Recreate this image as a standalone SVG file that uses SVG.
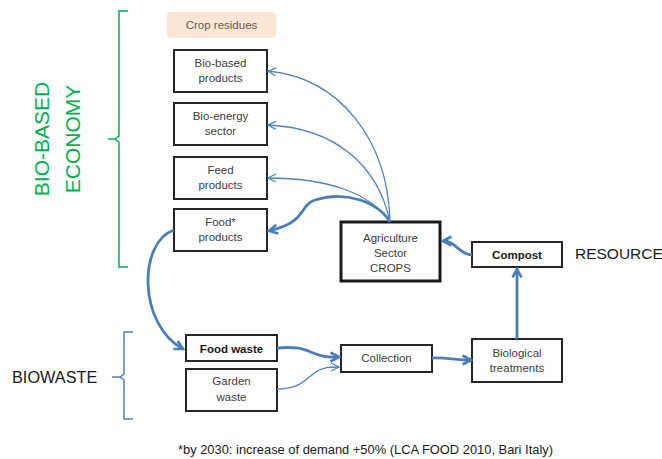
<svg xmlns="http://www.w3.org/2000/svg" width="662" height="459" viewBox="0 0 662 459">
<defs>
<style>
.box{fill:#fff;stroke:#262626;stroke-width:2}
.t{font-family:"Liberation Sans",Arial,sans-serif;font-size:11.5px;fill:#404040;text-anchor:middle}
.b{font-weight:bold;fill:#1a1a1a}
.thin{fill:none;stroke:#4f81bd;stroke-width:1.3}
.thick{fill:none;stroke:#4a7ebb;stroke-width:2.8}
.lbl{font-family:"Liberation Sans",Arial,sans-serif;fill:#1a1a1a}
</style>
<marker id="ah" viewBox="0 0 10 10" refX="9" refY="5" markerWidth="10" markerHeight="10" markerUnits="userSpaceOnUse" orient="auto">
<path d="M1,1 L9,5 L1,9" fill="none" stroke="#4f81bd" stroke-width="1.3"/>
</marker>
<marker id="ahT" viewBox="0 0 12 12" refX="10" refY="6" markerWidth="12" markerHeight="12" markerUnits="userSpaceOnUse" orient="auto">
<path d="M1.5,1.5 L10,6 L1.5,10.5" fill="none" stroke="#4a7ebb" stroke-width="2.6" stroke-linejoin="miter"/>
</marker>
</defs>
<rect width="662" height="459" fill="#fff"/>

<g id="bio-based-economy-label">
<path d="M128,11 L119,11 L119,136 L115,139 L108,139 M115,139 L119,142 L119,267 L128,267" fill="none" stroke="#00b050" stroke-width="1.5"/>
<text class="lbl" transform="translate(49,139) rotate(-90)" text-anchor="middle" font-size="21" fill="#00b050" style="fill:#00b050">BIO-BASED</text>
<text class="lbl" transform="translate(80,139) rotate(-90)" text-anchor="middle" font-size="21" style="fill:#00b050">ECONOMY</text>
</g>

<g id="biowaste-label">
<path d="M133,332 L124,332 L124,374 L120,377 L112,377 M120,377 L124,380 L124,419 L133,419" fill="none" stroke="#4f81bd" stroke-width="1.5"/>
<text class="lbl" x="12" y="383" font-size="16.3">BIOWASTE</text>
</g>

<g id="resource-label">
<text class="lbl" x="575" y="259" font-size="15.5">RESOURCE</text>
</g>

<g id="crop-residues">
<rect x="167" y="12" width="109" height="26" rx="4" fill="#fbe5d6"/>
<text class="t" x="221.5" y="29" font-size="11" style="fill:#6b5a4e">Crop residues</text>
</g>

<g id="bio-based-products">
<rect class="box" x="174" y="50" width="93" height="42"/>
<text class="t" x="220.5" y="67">Bio-based</text>
<text class="t" x="220.5" y="82">products</text>
</g>

<g id="bio-energy-sector">
<rect class="box" x="174" y="103" width="93" height="42"/>
<text class="t" x="220.5" y="120">Bio-energy</text>
<text class="t" x="220.5" y="135">sector</text>
</g>

<g id="feed-products">
<rect class="box" x="174" y="157" width="93" height="42"/>
<text class="t" x="220.5" y="174">Feed</text>
<text class="t" x="220.5" y="189">products</text>
</g>

<g id="food-products">
<rect class="box" x="174" y="209" width="93" height="42"/>
<text class="t" x="220.5" y="226">Food*</text>
<text class="t" x="220.5" y="241">products</text>
</g>

<g id="agriculture-sector">
<rect x="341" y="222" width="99" height="59" fill="#fff" stroke="#1a1a1a" stroke-width="3"/>
<text class="t" x="390.5" y="242">Agriculture</text>
<text class="t" x="390.5" y="257">Sector</text>
<text class="t" x="390.5" y="272">CROPS</text>
</g>

<g id="compost">
<rect class="box" x="472" y="242" width="90" height="25"/>
<text class="t b" x="517" y="258.5" font-size="11">Compost</text>
</g>

<g id="food-waste">
<rect class="box" x="186" y="335" width="91" height="26"/>
<text class="t b" x="231.5" y="352.5" font-size="11">Food waste</text>
</g>

<g id="garden-waste">
<rect class="box" x="186" y="369" width="91" height="42"/>
<text class="t" x="231.5" y="385">Garden</text>
<text class="t" x="231.5" y="401">waste</text>
</g>

<g id="collection">
<rect class="box" x="341" y="345" width="91" height="27"/>
<text class="t" x="386.5" y="362">Collection</text>
</g>

<g id="biological-treatments">
<rect class="box" x="472" y="339" width="90" height="43"/>
<text class="t" x="517" y="357">Biological</text>
<text class="t" x="517" y="372">treatments</text>
</g>

<g id="connectors">
<path class="thin" d="M390,222 C388,140 340,78 268,71" marker-end="url(#ah)"/>
<path class="thin" d="M390,222 C378,165 335,128 268,125" marker-end="url(#ah)"/>
<path class="thin" d="M390,222 C370,192 325,178 268,178" marker-end="url(#ah)"/>
<path class="thick" d="M390,222 C378,202 345,190 315,200 C298,206 308,222 269,231" marker-end="url(#ahT)"/>
<path class="thick" d="M174,230 C138,242 138,325 183,349" marker-end="url(#ahT)"/>
<path class="thick" d="M472,255 C458,254 456,241 443,241" marker-end="url(#ahT)"/>
<path class="thick" d="M517,339 L517,269" marker-end="url(#ahT)"/>
<path class="thick" d="M277,348 C300,346 305,350 316,354 C326,358 330,357 339,357" marker-end="url(#ahT)"/>
<path class="thin" d="M277,389 C300,389 304,380 316,372 C323,367 330,367 339,367" marker-end="url(#ah)"/>
<path class="thick" d="M432,358 C445,357 455,360 471,360" marker-end="url(#ahT)"/>
</g>

<g id="footnote">
<text class="lbl" x="178" y="454" font-size="12.6" style="fill:#1a1a1a" textLength="375" lengthAdjust="spacingAndGlyphs">*by 2030: increase of demand +50% (LCA FOOD 2010, Bari Italy)</text>
</g>
</svg>
